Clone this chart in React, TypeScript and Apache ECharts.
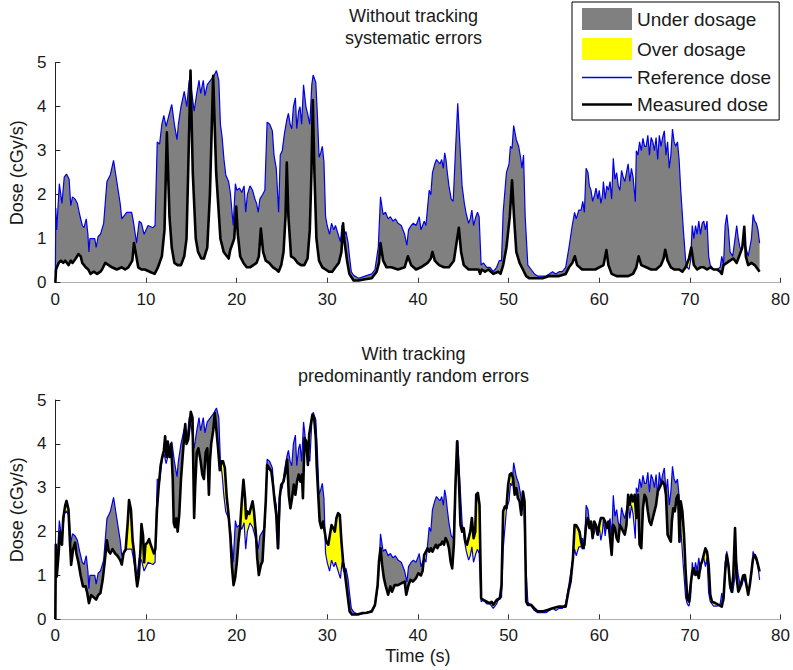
import React, { useEffect, useRef } from 'react';
import * as echarts from 'echarts';

// Reference dose (same in both panels): [time s, dose cGy/s]
const REFERENCE: number[][] = [
  [0, 0.2], [0.05, 1.7], [0.15, 1.2], [0.44, 2.25], [0.73, 1.8], [0.98, 2.4], [1.23, 2.47], [1.52, 2.35], [1.7, 1.75], [1.89, 1.95],
  [2.18, 1.9], [2.43, 1.8], [2.68, 1.55], [2.97, 1.3], [3.16, 1.25], [3.41, 1.45], [3.59, 1.1], [3.7, 0.7], [3.81, 1.0], [4.35, 1.0],
  [4.5, 0.8], [4.72, 1.05], [4.97, 1.1], [5.33, 1.35], [5.69, 2.3], [6.06, 2.45], [6.42, 2.78], [6.78, 2.3], [7.15, 1.8], [7.33, 1.45],
  [7.87, 1.6], [8.42, 1.6], [8.6, 1.4], [8.96, 0.9], [9.25, 1.4], [9.5, 1.35], [9.79, 1.1], [10.23, 1.3], [10.77, 1.25], [11.0, 1.3],
  [11.24, 3.2], [11.5, 3.15], [11.75, 3.6], [11.97, 3.8], [12.22, 3.55], [12.58, 3.85], [12.84, 4.05], [13.13, 3.6], [13.42, 3.25], [13.57, 3.6],
  [13.86, 4.0], [14.22, 4.35], [14.5, 4.0], [14.76, 4.6], [15.0, 4.4], [15.31, 3.9], [15.6, 4.3], [15.85, 4.6], [16.03, 4.3], [16.32, 4.6],
  [16.5, 4.25], [16.76, 4.5], [17.12, 4.6], [17.48, 4.7], [17.77, 4.82], [18.03, 4.6], [18.21, 3.6], [18.4, 3.3], [18.6, 2.8], [18.8, 2.45],
  [19.11, 2.3], [19.3, 2.05], [19.62, 1.3], [19.86, 2.25], [20.02, 2.1], [20.31, 2.15], [20.57, 2.05], [20.82, 2.2], [21.0, 1.6], [21.18, 2.0],
  [21.47, 2.2], [21.76, 2.1], [22.02, 1.9], [22.2, 1.8], [22.38, 1.6], [22.56, 1.9], [22.85, 2.0], [23.11, 2.1], [23.36, 3.65], [23.65, 3.6],
  [23.94, 3.45], [24.12, 2.9], [24.37, 2.6], [24.63, 1.6], [24.81, 2.9], [25.03, 3.0], [25.28, 3.4], [25.53, 3.7], [25.71, 3.85], [25.9, 3.6],
  [26.08, 3.5], [26.26, 4.0], [26.48, 4.2], [26.63, 3.5], [26.84, 3.9], [26.99, 4.0], [27.17, 3.6], [27.38, 4.5], [27.64, 4.0], [27.82, 3.85],
  [28.07, 3.6], [28.29, 4.5], [28.44, 4.72], [28.73, 4.55], [28.91, 3.8], [29.09, 2.85], [29.27, 2.95], [29.45, 3.1], [29.63, 2.75], [29.81, 1.5],
  [29.99, 1.3], [30.25, 1.1], [30.47, 1.35], [30.72, 1.2], [30.9, 1.3], [31.27, 1.05], [31.45, 0.93], [31.63, 1.31], [31.81, 1.08], [32.06, 1.16],
  [32.28, 0.93], [32.43, 0.63], [32.65, 0.25], [32.9, 0.17], [33.44, 0.1], [34.17, 0.15], [34.9, 0.2], [35.26, 0.3], [35.62, 0.8], [35.87, 1.95],
  [36.16, 1.55], [36.42, 1.6], [36.71, 1.45], [36.96, 1.5], [37.25, 1.4], [37.51, 1.45], [37.8, 1.35], [38.16, 1.3], [38.53, 1.1], [38.78, 0.85],
  [38.96, 1.2], [39.25, 1.3], [39.5, 1.35], [39.79, 1.3], [39.97, 1.4], [40.15, 1.5], [40.33, 1.2], [40.51, 1.3], [40.69, 1.4], [40.88, 1.3],
  [41.06, 1.7], [41.24, 2.1], [41.42, 2.0], [41.6, 2.5], [41.86, 2.7], [42.04, 2.8], [42.22, 2.75], [42.44, 2.7], [42.62, 2.8], [42.8, 2.6],
  [42.95, 2.95], [43.09, 2.8], [43.24, 2.5], [43.42, 2.2], [43.67, 1.9], [43.89, 1.85], [44.14, 3.0], [44.39, 4.08], [44.61, 3.2], [44.87, 2.2],
  [45.12, 1.8], [45.34, 1.55], [45.59, 1.35], [45.77, 1.45], [45.95, 1.65], [46.13, 1.3], [46.39, 1.5], [46.57, 1.6], [46.75, 1.5], [46.97, 0.4],
  [47.22, 0.45], [47.59, 0.35], [47.95, 0.35], [48.31, 0.25], [48.68, 0.35], [48.97, 0.5], [49.22, 0.5], [49.4, 1.6], [49.76, 2.5], [50.05, 2.7],
  [50.2, 3.1], [50.38, 3.05], [50.56, 3.57], [50.85, 3.25], [51.11, 3.1], [51.32, 2.85], [51.47, 2.6], [51.65, 2.9], [51.83, 1.5], [52.12, 0.4],
  [52.49, 0.3], [52.85, 0.2], [53.21, 0.15], [53.76, 0.15], [54.12, 0.15], [54.48, 0.2], [54.85, 0.25], [55.21, 0.2], [55.57, 0.25], [55.93, 0.25],
  [56.3, 0.35], [56.66, 0.8], [57.02, 1.3], [57.28, 1.6], [57.46, 1.45], [57.75, 1.65], [58.0, 1.65], [58.18, 1.85], [58.36, 1.6], [58.55, 2.6],
  [58.76, 2.5], [58.91, 2.2], [59.09, 2.1], [59.27, 1.85], [59.49, 2.0], [59.64, 2.15], [59.85, 1.9], [60.0, 2.1], [60.18, 1.8], [60.36, 2.0],
  [60.46, 2.3], [60.65, 1.9], [60.83, 2.2], [61.01, 2.1], [61.19, 2.3], [61.37, 1.9], [61.55, 2.83], [61.73, 2.35], [61.92, 2.5], [62.1, 2.2],
  [62.28, 2.1], [62.46, 2.55], [62.64, 2.4], [62.82, 2.3], [63.0, 2.5], [63.19, 2.7], [63.37, 2.3], [63.55, 2.6], [63.73, 2.4], [63.98, 1.84],
  [64.09, 3.0], [64.27, 2.9], [64.45, 3.2], [64.64, 3.0], [64.82, 3.28], [65.0, 3.1], [65.18, 3.1], [65.36, 3.35], [65.54, 2.9], [65.72, 3.3],
  [65.91, 3.2], [66.09, 3.0], [66.27, 3.3], [66.45, 2.8], [66.63, 3.35], [66.81, 3.1], [66.99, 3.3], [67.18, 3.45], [67.36, 2.9], [67.54, 3.2],
  [67.72, 2.6], [67.9, 2.9], [68.08, 3.49], [68.26, 3.2], [68.44, 3.1], [68.63, 3.2], [68.81, 2.8], [68.99, 2.1], [69.28, 1.2], [69.53, 0.5],
  [69.71, 0.35], [69.9, 0.3], [70.08, 0.5], [70.26, 1.3], [70.44, 1.0], [70.62, 1.3], [70.8, 1.1], [70.98, 1.4], [71.17, 1.1], [71.35, 1.35],
  [71.53, 1.4], [71.71, 1.2], [71.89, 1.4], [72.07, 0.6], [72.25, 0.4], [72.62, 0.3], [72.98, 0.3], [73.34, 0.35], [73.52, 0.6], [73.71, 0.4],
  [73.89, 1.3], [74.07, 1.55], [74.25, 1.2], [74.43, 0.7], [74.72, 0.6], [74.98, 1.0], [75.16, 1.3], [75.34, 1.0], [75.52, 0.8], [75.7, 0.75],
  [75.95, 0.95], [76.17, 0.8], [76.43, 0.6], [76.61, 0.8], [76.79, 1.0], [76.97, 1.55], [77.15, 1.4], [77.33, 1.35], [77.51, 1.2], [77.69, 0.9],
];

// Measured dose without tracking (top panel)
const MEASURED_NO_TRACKING: number[][] = [
  [0, 0], [0.07, 0.3], [0.36, 0.45], [0.62, 0.5], [0.87, 0.45], [1.09, 0.5], [1.45, 0.4], [1.7, 0.5], [1.89, 0.45], [2.25, 0.55],
  [2.54, 0.65], [2.79, 0.6], [2.97, 0.45], [3.34, 0.35], [3.63, 0.3], [3.88, 0.2], [4.24, 0.25], [4.61, 0.2], [4.97, 0.25], [5.15, 0.3],
  [5.51, 0.45], [5.88, 0.4], [6.24, 0.35], [6.78, 0.3], [7.33, 0.35], [7.69, 0.3], [8.05, 0.35], [8.49, 0.5], [8.67, 0.9], [8.85, 0.7],
  [9.14, 0.35], [9.5, 0.3], [9.87, 0.3], [10.41, 0.25], [10.95, 0.2], [11.32, 0.35], [11.75, 0.6], [12.04, 1.2], [12.3, 3.42], [12.59, 1.5],
  [12.84, 0.8], [13.13, 0.45], [13.49, 0.4], [13.86, 0.4], [14.22, 0.6], [14.47, 1.0], [14.65, 2.5], [14.91, 4.82], [15.16, 2.5], [15.49, 1.0],
  [15.74, 0.7], [16.1, 0.55], [16.39, 0.55], [16.76, 0.8], [17.05, 2.0], [17.41, 4.7], [17.74, 2.5], [18.21, 1.0], [18.57, 0.7], [18.93, 0.6],
  [19.12, 0.55], [19.3, 0.75], [19.48, 0.85], [19.73, 1.0], [19.95, 1.73], [20.13, 1.1], [20.39, 0.6], [20.75, 0.45], [21.11, 0.35], [21.47, 0.35],
  [21.84, 0.4], [22.2, 0.45], [22.45, 0.6], [22.67, 1.23], [22.92, 0.7], [23.21, 0.5], [23.58, 0.45], [24.01, 0.35], [24.37, 0.3], [24.63, 0.25],
  [24.92, 0.4], [25.17, 0.7], [25.39, 1.5], [25.53, 2.73], [25.71, 1.5], [26.0, 0.6], [26.37, 0.55], [26.73, 0.45], [27.09, 0.4], [27.46, 0.4],
  [27.82, 0.55], [28.07, 1.2], [28.25, 2.5], [28.4, 4.15], [28.58, 2.5], [28.8, 1.0], [29.09, 0.5], [29.45, 0.35], [29.81, 0.3], [30.18, 0.25],
  [30.54, 0.25], [30.9, 0.35], [31.27, 0.45], [31.56, 0.7], [31.74, 1.35], [31.92, 0.9], [32.18, 0.5], [32.43, 0.2], [32.9, 0.05], [33.44, 0.05],
  [34.17, 0.08], [34.9, 0.1], [35.44, 0.25], [35.7, 0.45], [35.87, 0.9], [36.16, 0.5], [36.53, 0.35], [37.07, 0.35], [37.8, 0.3], [38.53, 0.35],
  [38.89, 0.6], [39.25, 0.4], [39.79, 0.3], [40.33, 0.35], [41.06, 0.45], [41.42, 0.55], [41.6, 0.7], [41.86, 0.5], [42.33, 0.4], [42.87, 0.35],
  [43.42, 0.35], [43.96, 0.5], [44.25, 0.9], [44.51, 1.25], [44.76, 0.7], [45.05, 0.4], [45.59, 0.3], [46.14, 0.3], [46.68, 0.3], [46.86, 0.2],
  [47.04, 0.3], [47.4, 0.25], [47.77, 0.3], [48.31, 0.2], [48.86, 0.25], [49.11, 0.2], [49.4, 0.4], [49.76, 0.8], [50.13, 1.5], [50.38, 2.33],
  [50.6, 1.5], [50.85, 0.7], [51.21, 0.45], [51.58, 0.3], [51.94, 0.15], [52.3, 0.1], [53.03, 0.1], [53.75, 0.1], [54.48, 0.15], [55.57, 0.15],
  [56.3, 0.2], [56.66, 0.35], [57.02, 0.45], [57.31, 0.6], [57.56, 0.4], [58.11, 0.3], [58.83, 0.3], [59.56, 0.3], [60.47, 0.4], [60.79, 0.74],
  [61.01, 0.4], [61.37, 0.2], [61.92, 0.15], [62.46, 0.15], [63.19, 0.15], [63.73, 0.2], [64.09, 0.35], [64.35, 0.6], [64.64, 0.4], [65.18, 0.35],
  [65.72, 0.3], [66.27, 0.3], [66.81, 0.4], [67.1, 0.55], [67.28, 0.75], [67.54, 0.5], [67.9, 0.35], [68.26, 0.3], [68.81, 0.3], [69.17, 0.25],
  [69.53, 0.35], [69.9, 0.55], [70.15, 0.8], [70.44, 0.4], [70.8, 0.3], [71.17, 0.35], [71.53, 0.35], [71.89, 0.3], [72.25, 0.35], [72.62, 0.3],
  [72.98, 0.3], [73.34, 0.25], [73.52, 0.2], [73.71, 0.4], [74.07, 0.45], [74.43, 0.5], [74.79, 0.55], [75.16, 0.45], [75.52, 0.65], [75.78, 0.8],
  [76.0, 1.27], [76.17, 0.6], [76.43, 0.4], [76.79, 0.45], [77.15, 0.4], [77.51, 0.3], [77.69, 0.25],
];

// Measured dose with tracking (bottom panel)
const MEASURED_TRACKING: number[][] = [
  [0, 0], [0.05, 1.7], [0.15, 0.97], [0.36, 1.5], [0.51, 2.0], [0.73, 1.7], [0.87, 2.3], [1.09, 2.6], [1.23, 2.7], [1.45, 2.5],
  [1.6, 1.8], [1.74, 1.24], [1.96, 1.6], [2.18, 1.75], [2.32, 1.5], [2.54, 1.3], [2.79, 1.0], [3.05, 0.75], [3.34, 0.75], [3.52, 0.6],
  [3.7, 0.37], [3.95, 0.55], [4.24, 0.5], [4.5, 0.45], [4.72, 0.55], [4.97, 0.6], [5.22, 0.9], [5.44, 1.3], [5.69, 1.8], [5.88, 1.55],
  [6.06, 1.5], [6.31, 1.6], [6.6, 1.5], [6.85, 1.45], [7.15, 1.35], [7.33, 1.25], [7.51, 1.5], [7.76, 1.6], [7.98, 2.2], [8.13, 2.72],
  [8.34, 2.5], [8.52, 1.8], [8.7, 1.5], [8.89, 1.0], [9.03, 0.75], [9.21, 1.0], [9.39, 1.6], [9.5, 2.17], [9.68, 1.9], [9.79, 1.3],
  [9.94, 1.7], [10.16, 1.75], [10.34, 1.83], [10.52, 1.7], [10.7, 1.6], [10.88, 1.5], [11.03, 1.6], [11.21, 2.5], [11.39, 3.0], [11.61, 3.5],
  [11.79, 3.7], [11.97, 3.85], [12.11, 4.17], [12.26, 3.7], [12.4, 4.05], [12.59, 3.7], [12.77, 4.0], [12.95, 3.2], [13.06, 2.2], [13.2, 2.1],
  [13.35, 2.3], [13.49, 2.0], [13.67, 2.4], [13.86, 3.2], [14.04, 3.7], [14.22, 4.2], [14.33, 4.45], [14.47, 4.0], [14.65, 4.1], [14.8, 4.4],
  [14.94, 4.73], [15.13, 4.6], [15.31, 2.31], [15.42, 3.0], [15.6, 3.8], [15.78, 3.9], [16.03, 3.6], [16.21, 3.3], [16.39, 3.2], [16.58, 3.8],
  [16.76, 3.9], [16.94, 2.84], [17.05, 3.6], [17.19, 4.0], [17.41, 4.3], [17.59, 4.7], [17.77, 4.3], [17.95, 3.9], [18.14, 3.4], [18.32, 3.6],
  [18.5, 3.6], [18.7, 3.45], [18.9, 2.8], [19.1, 2.4], [19.3, 1.9], [19.48, 1.2], [19.66, 0.78], [19.84, 0.95], [20.02, 1.3], [20.2, 1.77],
  [20.38, 2.1], [20.57, 2.7], [20.75, 3.18], [20.93, 2.76], [21.04, 2.3], [21.18, 2.46], [21.4, 2.4], [21.55, 2.53], [21.76, 2.69], [21.91, 2.46],
  [22.13, 1.93], [22.27, 1.39], [22.45, 1.01], [22.67, 1.24], [22.85, 1.32], [23.03, 2.0], [23.21, 2.69], [23.36, 3.52], [23.58, 3.45], [23.83, 3.37],
  [24.01, 3.07], [24.19, 2.69], [24.37, 2.38], [24.55, 1.62], [24.74, 2.76], [24.92, 3.07], [25.17, 3.14], [25.39, 3.37], [25.57, 3.64], [25.75, 2.84],
  [25.93, 2.53], [26.11, 2.76], [26.3, 3.07], [26.48, 2.84], [26.66, 3.14], [26.84, 3.3], [27.02, 3.14], [27.2, 3.3], [27.31, 2.76], [27.49, 4.13],
  [27.67, 4.06], [27.86, 3.52], [28.0, 4.21], [28.18, 4.44], [28.36, 4.67], [28.55, 4.59], [28.73, 4.13], [28.84, 3.45], [28.98, 2.91], [29.16, 2.23],
  [29.35, 2.08], [29.53, 2.23], [29.71, 2.0], [29.89, 1.77], [30.11, 1.7], [30.29, 1.93], [30.47, 2.15], [30.65, 2.08], [30.83, 2.0], [31.01, 2.31],
  [31.19, 2.42], [31.38, 2.38], [31.56, 1.77], [31.74, 1.32], [31.92, 1.09], [32.1, 0.78], [32.28, 0.48], [32.46, 0.18], [32.72, 0.11], [33.27, 0.11],
  [33.81, 0.14], [34.36, 0.15], [34.9, 0.18], [35.26, 0.33], [35.55, 0.78], [35.7, 1.32], [35.87, 1.62], [36.05, 1.24], [36.24, 0.94], [36.42, 0.78],
  [36.71, 0.56], [36.96, 0.75], [37.14, 0.63], [37.43, 0.78], [37.8, 0.78], [38.16, 0.82], [38.53, 0.86], [38.71, 0.56], [38.96, 0.78], [39.18, 0.9],
  [39.43, 0.86], [39.79, 0.94], [40.04, 1.05], [40.33, 1.0], [40.51, 1.1], [40.69, 1.47], [40.88, 1.54], [41.06, 1.62], [41.24, 1.54], [41.42, 1.62],
  [41.6, 1.54], [41.78, 1.62], [41.97, 1.7], [42.15, 1.62], [42.33, 1.7], [42.51, 1.7], [42.69, 1.77], [42.87, 1.7], [43.05, 1.85], [43.24, 1.77],
  [43.42, 1.62], [43.6, 1.32], [43.78, 1.16], [43.96, 1.7], [44.14, 3.07], [44.32, 4.06], [44.51, 3.22], [44.69, 2.15], [44.87, 2.0], [45.05, 2.08],
  [45.23, 1.77], [45.41, 1.7], [45.59, 1.85], [45.77, 2.0], [45.95, 2.31], [46.14, 1.85], [46.32, 2.0], [46.43, 2.84], [46.61, 2.88], [46.79, 2.61],
  [46.97, 0.48], [47.22, 0.44], [47.59, 0.4], [47.88, 0.37], [48.13, 0.4], [48.31, 0.33], [48.68, 0.44], [49.04, 0.48], [49.22, 0.78], [49.4, 2.46],
  [49.58, 2.57], [49.76, 2.53], [49.95, 3.07], [50.13, 3.3], [50.31, 3.33], [50.49, 3.22], [50.67, 2.84], [50.85, 2.99], [51.03, 2.76], [51.21, 2.69],
  [51.4, 2.38], [51.58, 2.91], [51.76, 2.69], [51.94, 0.4], [52.12, 0.33], [52.49, 0.33], [52.85, 0.25], [53.21, 0.18], [53.76, 0.18], [54.3, 0.21],
  [54.85, 0.25], [55.57, 0.29], [56.3, 0.29], [56.59, 0.63], [56.84, 0.86], [57.1, 1.39], [57.28, 2.15], [57.46, 2.15], [57.64, 2.08], [57.82, 2.0],
  [58.0, 1.77], [58.18, 1.62], [58.36, 1.7], [58.55, 2.15], [58.73, 2.31], [58.91, 2.08], [59.09, 2.23], [59.27, 1.85], [59.45, 2.23], [59.63, 2.15],
  [59.81, 1.93], [60.0, 2.15], [60.18, 2.31], [60.46, 2.31], [60.65, 2.23], [60.83, 2.08], [61.01, 2.23], [61.19, 1.85], [61.37, 1.47], [61.55, 2.15],
  [61.73, 2.08], [61.92, 1.85], [62.1, 1.77], [62.28, 2.15], [62.46, 2.08], [62.64, 2.0], [62.82, 1.93], [63.0, 2.15], [63.19, 2.84], [63.37, 2.61],
  [63.55, 2.84], [63.73, 2.69], [63.91, 2.84], [64.09, 2.31], [64.27, 2.84], [64.45, 1.7], [64.64, 1.62], [64.82, 2.53], [65.0, 2.84], [65.18, 2.76],
  [65.36, 2.46], [65.54, 2.23], [65.72, 2.15], [65.91, 2.31], [66.09, 2.46], [66.27, 2.61], [66.45, 2.91], [66.63, 2.99], [66.81, 3.07], [66.99, 3.14],
  [67.18, 3.07], [67.36, 2.84], [67.54, 1.93], [67.72, 1.85], [67.9, 1.77], [68.01, 2.23], [68.16, 2.53], [68.34, 2.46], [68.52, 2.76], [68.7, 2.84],
  [68.85, 1.77], [68.99, 2.69], [69.17, 2.46], [69.35, 1.93], [69.53, 1.09], [69.71, 0.48], [69.9, 0.4], [70.08, 0.78], [70.26, 1.09], [70.44, 1.16],
  [70.62, 1.01], [70.8, 1.09], [70.98, 0.94], [71.17, 1.24], [71.35, 1.32], [71.53, 1.47], [71.71, 1.62], [71.89, 1.54], [72.07, 1.24], [72.25, 0.56],
  [72.44, 0.4], [72.8, 0.37], [73.16, 0.33], [73.52, 0.29], [73.71, 0.48], [73.89, 1.09], [74.07, 1.47], [74.25, 1.24], [74.43, 0.78], [74.61, 0.63],
  [74.79, 1.01], [74.98, 2.08], [75.16, 0.94], [75.34, 0.63], [75.52, 0.71], [75.7, 0.86], [75.88, 1.0], [76.06, 1.01], [76.24, 0.78], [76.43, 0.56],
  [76.61, 0.78], [76.79, 1.09], [76.97, 1.39], [77.15, 1.47], [77.33, 1.39], [77.51, 1.24], [77.69, 1.09],
];

const TITLES = [['Without tracking', 'systematic errors'], ['With tracking', 'predominantly random errors']];
const LEGEND_NAMES = ['Under dosage', 'Over dosage', 'Reference dose', 'Measured dose'];
const X_RANGE = [0, 80, 10];
const Y_RANGE = [0, 5, 1];

const FONT = '"Liberation Sans", Arial, Helvetica, sans-serif';
const GRAY = '#808080';
const YELLOW = '#ffff00';
const BLUE = '#0000ee';

function interp(arr: number[][], t: number): number {
  if (t <= arr[0][0]) return arr[0][1];
  const n = arr.length;
  if (t >= arr[n - 1][0]) return arr[n - 1][1];
  let lo = 0, hi = n - 1;
  while (hi - lo > 1) {
    const mid = (lo + hi) >> 1;
    if (arr[mid][0] <= t) lo = mid; else hi = mid;
  }
  const [t0, v0] = arr[lo];
  const [t1, v1] = arr[hi];
  return v0 + ((v1 - v0) * (t - t0)) / (t1 - t0);
}

type BandPt = { t: number; r: number; m: number };

function bandPoints(ref: number[][], meas: number[][]): BandPt[] {
  const tEnd = Math.min(ref[ref.length - 1][0], meas[meas.length - 1][0]);
  const ts = Array.from(new Set([...ref.map((p) => p[0]), ...meas.map((p) => p[0])]))
    .filter((t) => t <= tEnd)
    .sort((a, b) => a - b);
  const out: BandPt[] = [];
  let prev: BandPt | null = null;
  for (const t of ts) {
    const cur = { t, r: interp(ref, t), m: interp(meas, t) };
    if (prev) {
      const d0 = prev.r - prev.m;
      const d1 = cur.r - cur.m;
      if (d0 * d1 < 0) {
        const f = d0 / (d0 - d1);
        const tc = prev.t + f * (cur.t - prev.t);
        const vc = prev.r + f * (cur.r - prev.r);
        out.push({ t: tc, r: vc, m: vc });
      }
    }
    out.push(cur);
    prev = cur;
  }
  return out;
}

function fillSeries(name: string, color: string, pts: BandPt[], kind: 'under' | 'over', idx: number) {
  return {
    type: 'custom',
    name,
    xAxisIndex: idx,
    yAxisIndex: idx,
    silent: true,
    z: 1,
    itemStyle: { color },
    data: [[0, 0]],
    renderItem: (_params: any, api: any) => {
      const up = pts.map((p) => api.coord([p.t, Math.max(p.r, p.m)]));
      const lo = pts.map((p) => api.coord([p.t, kind === 'under' ? p.m : p.r])).reverse();
      return {
        type: 'polygon',
        shape: { points: up.concat(lo) },
        style: { fill: color, stroke: null },
      };
    },
  };
}

export default function App() {
  const ref = useRef<HTMLDivElement>(null);

  useEffect(() => {
    if (!ref.current) return;
    const chart = echarts.init(ref.current, undefined, { renderer: 'svg' });

    const grids = [
      { left: 45.5, width: 735.5, top: 62.7, height: 220 },
      { left: 45.5, width: 735.5, top: 400, height: 219.3 },
    ];
    const measured = [MEASURED_NO_TRACKING, MEASURED_TRACKING];

    const xAxes = grids.map((_, i) => ({
      type: 'value',
      gridIndex: i,
      min: X_RANGE[0],
      max: X_RANGE[1],
      interval: X_RANGE[2],
      name: i === 1 ? 'Time (s)' : '',
      nameLocation: 'middle',
      nameGap: 28,
      nameTextStyle: { fontSize: 18, color: '#1a1a1a', fontFamily: FONT },
      axisLine: { show: true, lineStyle: { color: '#b0b0a8', width: 1 } },
      axisTick: { show: true, inside: true, length: 5, lineStyle: { color: '#333' } },
      axisLabel: { fontSize: 17, color: '#1a1a1a', fontFamily: FONT, margin: 8 },
      splitLine: { show: false },
    }));
    const yAxes = grids.map((_, i) => ({
      type: 'value',
      gridIndex: i,
      min: Y_RANGE[0],
      max: Y_RANGE[1],
      interval: Y_RANGE[2],
      name: 'Dose (cGy/s)',
      nameLocation: 'middle',
      nameGap: 29,
      nameTextStyle: { fontSize: 18, color: '#1a1a1a', fontFamily: FONT },
      axisLine: { show: true, lineStyle: { color: '#222', width: 1 } },
      axisTick: { show: true, inside: true, length: 5, lineStyle: { color: '#222' } },
      axisLabel: { fontSize: 17, color: '#1a1a1a', fontFamily: FONT, margin: 9 },
      splitLine: { show: false },
    }));

    const series: any[] = [];
    measured.forEach((meas, i) => {
      const pts = bandPoints(REFERENCE, meas);
      series.push(fillSeries(LEGEND_NAMES[0], GRAY, pts, 'under', i));
      series.push(fillSeries(LEGEND_NAMES[1], YELLOW, pts, 'over', i));
      series.push({
        type: 'line',
        name: LEGEND_NAMES[2],
        xAxisIndex: i,
        yAxisIndex: i,
        data: REFERENCE,
        symbol: 'none',
        showSymbol: false,
        z: 2,
        color: BLUE,
        itemStyle: { color: BLUE },
        lineStyle: { color: BLUE, width: 1.2 },
      });
      series.push({
        type: 'line',
        name: LEGEND_NAMES[3],
        xAxisIndex: i,
        yAxisIndex: i,
        data: meas,
        symbol: 'none',
        showSymbol: false,
        z: 3,
        color: '#000',
        itemStyle: { color: '#000' },
        lineStyle: { color: '#000', width: 2.6, join: 'round' },
      });
    });

    const titleY = [5, 343];
    const graphic = TITLES.map((lines, i) => ({
      type: 'text',
      x: 413.5,
      y: titleY[i],
      silent: true,
      style: {
        text: lines.join('\n'),
        textAlign: 'center',
        textVerticalAlign: 'top',
        fontSize: 18,
        fontFamily: FONT,
        lineHeight: 22,
        fill: '#1a1a1a',
      },
    }));

    chart.setOption({
      animation: false,
      backgroundColor: '#ffffff',
      grid: grids,
      xAxis: xAxes,
      yAxis: yAxes,
      legend: {
        left: 572,
        top: 2,
        orient: 'vertical',
        selectedMode: false,
        padding: [6, 8, 6, 10],
        itemGap: 8,
        itemWidth: 50,
        itemHeight: 22,
        symbolKeepAspect: true,
        borderColor: '#000',
        borderWidth: 1,
        backgroundColor: '#fff',
        textStyle: { fontSize: 19, color: '#1a1a1a', fontFamily: FONT },
        lineStyle: { width: 0 },
        data: [
          { name: LEGEND_NAMES[0], icon: 'rect', itemStyle: { color: GRAY, borderWidth: 0 } },
          { name: LEGEND_NAMES[1], icon: 'rect', itemStyle: { color: YELLOW, borderWidth: 0 } },
          { name: LEGEND_NAMES[2], icon: 'path://M0,0H50V1.6H0Z', itemStyle: { color: BLUE, borderWidth: 0 } },
          { name: LEGEND_NAMES[3], icon: 'path://M0,0H50V2.6H0Z', itemStyle: { color: '#000', borderWidth: 0 } },
        ],
      },
      graphic,
      series,
    });

    return () => chart.dispose();
  }, []);

  return (
    <div
      ref={ref}
      style={{ position: 'fixed', left: 0, top: 0, width: 793, height: 670, background: '#fff' }}
    />
  );
}
